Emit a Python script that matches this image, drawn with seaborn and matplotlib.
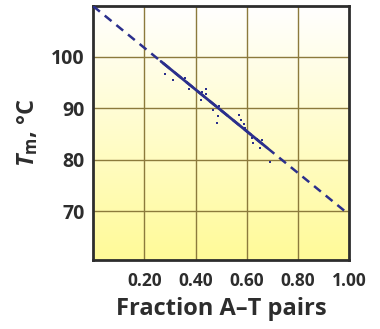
import matplotlib
matplotlib.use('Agg')
import matplotlib.pyplot as plt
from matplotlib.colors import LinearSegmentedColormap
import seaborn as sns
import numpy as np
import pandas as pd

# measured points (fraction A-T, Tm)
at_frac = [0.279, 0.311, 0.359, 0.376, 0.424, 0.441, 0.441, 0.421, 0.467, 0.492,
           0.500, 0.489, 0.483, 0.568, 0.578, 0.590, 0.594, 0.620, 0.639, 0.661,
           0.626, 0.650, 0.691]
tm_vals = [96.7, 95.6, 95.9, 93.8, 93.2, 93.8, 92.7, 91.7, 89.7, 90.4,
           89.7, 88.6, 87.1, 88.7, 87.7, 87.0, 86.2, 84.3, 84.1, 83.9,
           83.2, 82.3, 79.5]

# regression line: extrapolated (dashed) and fitted range (solid)
fit_x = [0.0, 1.0]
fit_y = [109.9, 69.3]
solid_x = [0.265, 0.68]

x_ticks = [0.2, 0.4, 0.6, 0.8, 1.0]
x_labels = ['0.20', '0.40', '0.60', '0.80', '1.00']
y_ticks = [70, 80, 90, 100]

sns.set_theme(style='white')
plt.rcParams['font.family'] = ['Open Sans', 'DejaVu Sans']
plt.rcParams['mathtext.fontset'] = 'custom'
plt.rcParams['mathtext.it'] = 'Open Sans:italic:bold'
plt.rcParams['mathtext.rm'] = 'Open Sans:bold'
plt.rcParams['mathtext.bf'] = 'Open Sans:bold'

fig = plt.figure(figsize=(3.8, 3.29), dpi=100)
ax = fig.add_axes([0.245, 0.21, 0.674, 0.773])

xlim = (0.0, 1.0)
ylim = (60.5, 110.0)

# white (top) to yellow (bottom) background
cmap = LinearSegmentedColormap.from_list('bg', ['#ffffff', '#fffa98'])
grad = np.linspace(0, 1, 256).reshape(-1, 1)
ax.imshow(grad, aspect='auto', cmap=cmap, origin='upper',
          extent=[xlim[0], xlim[1], ylim[0], ylim[1]], zorder=0)

# grid
for gx in x_ticks[:-1]:
    ax.axvline(gx, color='#8c7a3c', lw=1.0, zorder=1)
for gy in y_ticks:
    ax.axhline(gy, color='#8c7a3c', lw=1.0, zorder=1)

navy = '#2b2f8c'
line_df = pd.DataFrame({'x': fit_x, 'y': fit_y})
sns.lineplot(data=line_df, x='x', y='y', ax=ax, color=navy, lw=1.8,
             dashes=False, zorder=3)
ax.lines[-1].set_dashes([3.5, 2.5])
slope = (fit_y[1] - fit_y[0]) / (fit_x[1] - fit_x[0])
solid_y = [fit_y[0] + slope * v for v in solid_x]
ax.plot(solid_x, solid_y, color=navy, lw=2.0, zorder=4)

pts = pd.DataFrame({'at': at_frac, 'tm': tm_vals})
sns.scatterplot(data=pts, x='at', y='tm', ax=ax, color=navy, marker='s', s=4,
                linewidth=0, zorder=5)

ax.set_xlim(*xlim)
ax.set_ylim(*ylim)
ax.set_xticks(x_ticks)
ax.set_xticklabels(x_labels)
ax.set_yticks(y_ticks)

ax.tick_params(axis='x', direction='in', length=8, width=1.8, color='#2d2d2d',
               pad=9, labelsize=12.5, labelcolor='#2d2d2d')
ax.tick_params(axis='y', direction='in', length=10, width=1.8, color='#2d2d2d',
               pad=6, labelsize=14, labelcolor='#2d2d2d')
for lab in ax.get_xticklabels() + ax.get_yticklabels():
    lab.set_fontweight('bold')

for sp in ax.spines.values():
    sp.set_visible(True)
    sp.set_color('#2d2d2d')
    sp.set_linewidth(2.0)

ax.set_xlabel('Fraction A–T pairs', fontsize=17, fontweight='bold',
              color='#2d2d2d', labelpad=5)
ax.set_ylabel(r'$\mathit{T}_{\mathrm{m}}$, °C', fontsize=17, fontweight='bold',
              color='#2d2d2d', labelpad=8)
ax.grid(False)

plt.savefig('out.png', dpi=100)
